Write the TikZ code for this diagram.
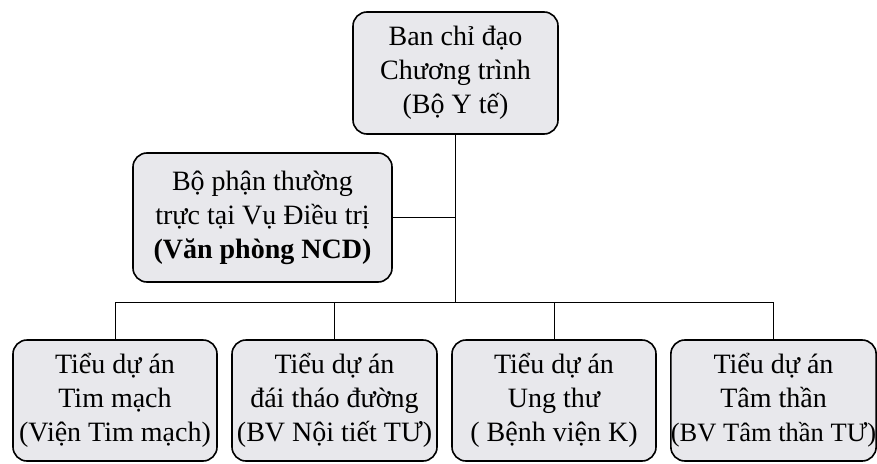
\documentclass[tikz,border=0pt]{standalone}
\usepackage{fontspec}
\setmainfont{Liberation Serif}
\definecolor{nen}{RGB}{232,232,236}
\begin{document}
\begin{tikzpicture}[x=1pt, y=-1pt,
  khoi/.style={draw, line width=1.6pt, rounded corners=14pt, fill=nen,
    align=center, inner sep=0pt, font=\fontsize{28}{34}\selectfont},
  noi/.style={line width=1pt}]

  \useasboundingbox (0,0) rectangle (877,463);

  % --- ban chi dao ---
  \node[khoi, minimum width=205pt, minimum height=122pt] (bcd) at (455.5, 73)
    {Ban chỉ đạo\\Chương trình\\(Bộ Y tế)};

  % --- bo phan thuong truc ---
  \node[khoi, minimum width=259pt, minimum height=129pt] (btt) at (262.5, 217.5)
    {Bộ phận thường\\trực tại Vụ Điều trị\\\textbf{(Văn phòng NCD)}};

  % --- tieu du an ---
  \node[khoi, minimum width=204pt, minimum height=121pt] (tm) at (115, 400.5)
    {Tiểu dự án\\Tim mạch\\(Viện Tim mạch)};
  \node[khoi, minimum width=205pt, minimum height=121pt] (dtd) at (334.5, 400.5)
    {Tiểu dự án\\đái tháo đường\\(BV Nội tiết TƯ)};
  \node[khoi, minimum width=204pt, minimum height=121pt] (ut) at (554, 400.5)
    {Tiểu dự án\\Ung thư\\( Bệnh viện K)};
  \node[khoi, minimum width=205pt, minimum height=121pt] (tt) at (773.5, 400.5)
    {Tiểu dự án\\Tâm thần\\{\fontsize{26.5}{34}\selectfont(BV Tâm thần TƯ)}};

  % --- diem noi ---
  \coordinate (nhanh) at (bcd.south |- btt.east);
  \coordinate (truc) at (bcd.south |- 0, 302);

  % --- duong noi ---
  \draw[noi] (bcd.south) -- (truc);
  \draw[noi] (btt.east) -- (nhanh);
  \draw[noi] (tm.north) -- (tm.north |- truc) -- (tt.north |- truc) -- (tt.north);
  \draw[noi] (dtd.north) -- (dtd.north |- truc);
  \draw[noi] (ut.north) -- (ut.north |- truc);

\end{tikzpicture}
\end{document}
